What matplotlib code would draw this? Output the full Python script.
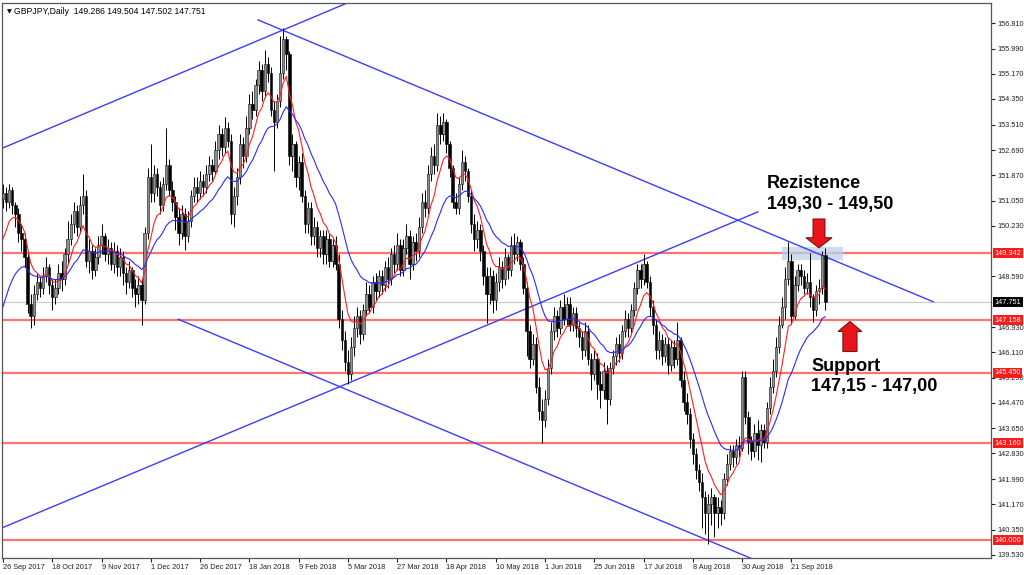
import numpy as np
import matplotlib
matplotlib.use('Agg')
import matplotlib.pyplot as plt
from matplotlib.patches import Polygon, Rectangle
from matplotlib.transforms import blended_transform_factory

plt.rcParams['font.family'] = ['Liberation Sans', 'DejaVu Sans']

# daily closes (bar 0 = 26 Sep 2017)
closes = [
    151.3, 151.0, 151.4, 150.9, 150.6, 150.0, 149.8, 149.2, 147.7, 147.3,
    148.0, 148.4, 148.2, 148.6, 148.9, 148.3, 147.9, 148.2, 148.7, 148.5,
    149.3, 149.8, 150.3, 150.7, 150.2, 150.9, 151.2, 149.1, 149.4, 148.8,
    149.2, 149.6, 149.9, 149.3, 149.5, 149.0, 149.4, 148.9, 149.2, 148.7,
    148.4, 148.8, 148.2, 148.0, 148.3, 147.8, 150.0, 151.8, 151.3, 151.9,
    151.5, 150.9, 151.6, 152.2, 151.4, 151.0, 150.5, 150.0, 150.6, 149.9,
    150.4, 151.2, 151.5, 151.3, 151.7, 151.5, 151.9, 152.2, 152.0, 152.7,
    153.2, 152.8, 153.4, 153.0, 150.6, 151.2, 151.8, 152.9, 152.5, 153.4,
    154.2, 154.0, 154.8, 155.3, 154.6, 155.5, 155.2, 154.0, 153.6, 154.3,
    155.2, 156.3, 155.8, 152.5, 152.9, 151.8, 152.3, 151.2, 150.3, 150.8,
    149.9, 150.2, 149.5, 149.9, 149.3, 149.8, 149.1, 149.6, 149.0, 147.2,
    146.5, 145.8, 145.4, 146.3, 146.9, 147.3, 146.7, 147.5, 148.0, 147.6,
    148.4, 148.1, 148.6, 148.3, 148.9, 148.5, 149.3, 149.0, 149.6, 148.8,
    149.5, 149.9, 149.0, 149.7, 149.4, 150.2, 151.0, 150.8, 151.9, 152.5,
    152.2, 153.5, 153.2, 153.6, 152.9, 152.1, 151.0, 150.8, 151.6, 152.3,
    152.0, 151.2, 150.3, 149.8, 150.1, 149.4, 148.6, 148.0, 148.6, 147.8,
    148.4, 148.9, 148.5, 149.2, 148.8, 149.6, 149.3, 149.7, 149.0, 148.2,
    146.8, 145.9, 146.4, 145.0, 144.2, 143.9, 144.6, 145.6, 146.8, 147.3,
    146.9, 147.6, 147.2, 147.7, 147.0, 147.4, 146.9, 146.6, 146.2, 146.8,
    145.9, 145.4, 145.9, 145.1, 144.9, 145.5, 144.6, 145.6, 146.0, 146.4,
    146.1, 146.8, 147.2, 146.9, 147.5, 148.2, 148.8, 148.5, 149.0, 148.4,
    147.6, 147.0, 146.2, 146.5, 146.0, 146.4, 145.7, 146.3, 145.9, 146.5,
    145.2, 144.5, 144.1, 143.3, 142.8, 142.3, 141.9, 141.4, 140.9, 141.2,
    141.4, 140.9, 141.1, 140.9, 142.0, 142.5, 142.9, 142.7, 143.1, 143.0,
    145.3, 144.0, 143.2, 142.9, 143.5, 143.1, 143.6, 143.2, 144.3, 145.0,
    145.5, 146.3, 147.0, 147.6, 148.5, 149.1, 147.3, 148.3, 148.8, 148.6,
    148.2, 148.4, 147.9, 147.5, 148.1, 148.2, 149.286, 147.751,
]
highs = [
    151.6, 151.5, 151.6, 151.5, 151.0, 150.8, 150.3, 150.0, 149.4, 148.0,
    148.3, 148.7, 148.6, 148.9, 149.2, 149.0, 148.5, 148.5, 149.0, 149.1,
    149.5, 150.4, 150.6, 151.0, 150.9, 151.2, 151.9, 151.4, 149.8, 149.6,
    149.5, 149.9, 150.3, 150.0, 149.8, 149.7, 149.7, 149.6, 149.5, 149.4,
    148.9, 149.1, 148.9, 148.5, 148.6, 148.5, 150.2, 152.1, 152.9, 152.2,
    152.1, 151.7, 151.8, 153.4, 152.4, 151.7, 151.2, 150.8, 150.9, 150.8,
    150.7, 151.4, 151.8, 151.8, 152.0, 151.9, 152.2, 152.5, 152.4, 153.0,
    153.5, 153.4, 153.75, 153.6, 153.2, 151.5, 152.1, 153.2, 153.1, 153.8,
    154.5, 154.6, 155.0, 155.6, 155.5, 155.94, 155.7, 155.4, 154.3, 154.5,
    156.4, 156.66, 156.4, 155.9, 153.2, 153.0, 152.5, 152.6, 151.4, 151.0,
    151.0, 150.5, 150.4, 150.1, 150.1, 150.1, 150.0, 149.8, 149.9, 149.3,
    147.5, 146.8, 146.2, 146.6, 147.3, 147.6, 147.5, 147.7, 148.4, 148.3,
    148.6, 148.7, 148.8, 148.8, 149.1, 149.2, 149.5, 149.6, 150.0, 149.8,
    149.8, 150.3, 150.1, 149.9, 150.0, 150.5, 151.3, 151.4, 152.2, 152.8,
    152.9, 153.9, 153.8, 153.9, 153.7, 153.0, 152.2, 151.3, 151.8, 152.7,
    152.5, 152.1, 151.4, 150.6, 150.4, 150.3, 149.6, 148.9, 148.9, 148.8,
    148.7, 149.2, 149.1, 149.5, 149.3, 149.9, 150.0, 149.9, 149.8, 149.2,
    148.4, 147.0, 146.7, 146.6, 145.3, 144.6, 144.9, 145.9, 147.1, 147.6,
    147.5, 147.8, 148.0, 147.9, 147.9, 147.6, 147.6, 147.1, 146.8, 147.1,
    147.0, 146.1, 146.2, 146.1, 145.5, 145.8, 145.7, 145.8, 146.2, 146.6,
    146.7, 147.0, 147.5, 147.4, 147.7, 148.4, 149.0, 149.0, 149.3, 149.1,
    148.6, 147.8, 147.2, 146.8, 146.7, 146.6, 146.6, 146.5, 146.5, 147.1,
    146.6, 145.5, 144.8, 144.3, 143.5, 143.0, 142.5, 142.2, 141.6, 141.5,
    141.7, 141.5, 141.4, 141.3, 142.2, 142.8, 143.1, 143.1, 143.3, 143.4,
    145.5, 145.5, 144.2, 143.4, 143.8, 143.9, 143.8, 143.8, 144.5, 145.3,
    145.9, 146.6, 147.3, 147.9, 148.9, 149.7, 149.3, 148.6, 149.0, 149.0,
    148.8, 148.7, 149.33, 148.0, 148.3, 148.5, 149.4, 149.504,
]
lows = [
    150.8, 150.7, 150.8, 150.6, 150.2, 149.7, 149.4, 148.9, 147.4, 146.9,
    147.0, 147.8, 147.9, 148.0, 148.4, 148.0, 147.5, 147.7, 148.0, 148.1,
    148.3, 149.0, 149.6, 150.0, 149.9, 150.0, 150.6, 148.9, 148.7, 148.5,
    148.6, 149.0, 149.3, 149.1, 149.0, 148.8, 148.7, 148.6, 148.6, 148.3,
    148.0, 148.2, 147.9, 147.6, 147.7, 147.0, 147.7, 149.8, 151.0, 151.0,
    151.2, 150.6, 150.7, 151.4, 151.2, 150.7, 150.1, 149.6, 149.8, 149.45,
    149.7, 150.2, 151.0, 151.0, 151.1, 151.2, 151.3, 151.7, 151.7, 151.9,
    152.4, 152.5, 152.6, 152.8, 150.3, 150.2, 150.9, 151.6, 152.1, 152.3,
    153.2, 153.7, 153.8, 154.5, 154.3, 154.4, 154.9, 153.8, 152.0, 153.4,
    154.1, 155.0, 155.3, 152.2, 152.0, 151.5, 151.4, 151.0, 150.0, 150.0,
    149.6, 149.6, 149.2, 149.2, 149.0, 149.0, 148.9, 148.9, 148.8, 146.9,
    146.2, 145.5, 145.07, 145.2, 146.0, 146.6, 146.4, 146.5, 147.3, 147.4,
    147.4, 147.8, 147.9, 148.0, 148.1, 148.2, 148.3, 148.7, 148.8, 148.6,
    148.6, 149.3, 148.5, 148.8, 149.1, 149.2, 150.0, 150.5, 150.6, 151.7,
    151.9, 152.0, 152.9, 153.0, 152.6, 151.8, 150.8, 150.6, 150.6, 151.4,
    151.7, 151.0, 150.0, 149.4, 149.5, 149.1, 148.3, 147.07, 147.7, 147.4,
    147.5, 148.1, 148.2, 148.3, 148.5, 148.6, 149.0, 149.1, 148.8, 148.0,
    146.0, 145.6, 145.7, 144.8, 143.9, 143.17, 143.7, 144.4, 145.4, 146.5,
    146.6, 146.7, 147.0, 147.0, 146.8, 146.8, 146.6, 146.3, 145.9, 146.0,
    145.7, 144.9, 145.2, 144.6, 144.3, 144.6, 143.8, 144.4, 145.4, 145.7,
    145.8, 145.9, 146.6, 146.6, 146.7, 147.3, 148.0, 148.2, 148.3, 148.2,
    147.3, 146.7, 145.9, 145.9, 145.7, 145.8, 145.4, 145.5, 145.6, 145.7,
    145.0, 144.2, 143.8, 143.0, 142.5, 142.0, 141.6, 140.4, 140.2, 139.87,
    140.5, 140.1, 140.4, 140.5, 140.7, 141.8, 142.3, 142.4, 142.5, 142.7,
    142.9, 143.8, 142.8, 142.6, 142.7, 142.6, 142.55, 143.0, 143.0, 144.1,
    144.8, 145.3, 146.1, 146.9, 147.2, 148.3, 147.05, 147.2, 148.1, 148.3,
    148.0, 148.0, 147.6, 147.1, 147.3, 147.7, 148.0, 147.502,
]
first_open = 151.1

# moving averages: periods and their values at the first visible bar
fast_period, fast_seed = 8, 149.8
slow_period, slow_seed = 21, 147.6

levels = [149.342, 147.158, 145.450, 143.160, 140.000]
last_price = 147.751
price_ticks = [156.81, 155.99, 155.17, 154.35, 153.51, 152.69, 151.87, 151.05,
               150.23, 148.59, 146.93, 146.11, 145.29, 144.47, 143.65, 142.83,
               141.99, 141.17, 140.35, 139.53]
date_labels = ['26 Sep 2017', '18 Oct 2017', '9 Nov 2017', '1 Dec 2017',
               '26 Dec 2017', '18 Jan 2018', '9 Feb 2018', '5 Mar 2018',
               '27 Mar 2018', '18 Apr 2018', '10 May 2018', '1 Jun 2018',
               '25 Jun 2018', '17 Jul 2018', '8 Aug 2018', '30 Aug 2018',
               '21 Sep 2018']
date_step = 16

# trend lines as (bar, price) end points
trend_lines = [
    ((0.0, 152.76), (112.0, 157.48)),
    ((82.8, 156.92), (302.0, 147.76)),
    ((-0.3, 140.41), (245.1, 150.68)),
    ((56.9, 147.19), (243.6, 139.39)),
]
zone_bars = (252.9, 272.7)
zone_prices = (149.11, 149.55)


def ema(values, period, seed):
    a = 2.0 / (period + 1)
    out = [seed]
    for v in values[1:]:
        out.append(out[-1] + a * (v - out[-1]))
    return np.array(out)


c = np.array(closes)
o = np.array([first_open] + closes[:-1])
idx = np.arange(len(c))

W, H = 1024, 575
fig = plt.figure(figsize=(W / 100, H / 100), dpi=100)
ax = fig.add_axes([2 / W, 17 / H, 989 / W, 555 / H])
ax.set_xlim(-0.32, 320.8)
ax.set_ylim(139.43, 157.47)

# support / resistance levels and bid line
for lv in levels:
    ax.axhline(lv, color='#ff5a5a', lw=1.6, alpha=0.85, zorder=1)
ax.axhline(last_price, color='#c8c8c8', lw=0.8, zorder=1)

ax.add_patch(Rectangle((zone_bars[0], zone_prices[0]), zone_bars[1] - zone_bars[0],
                       zone_prices[1] - zone_prices[0], fc='#b9d3ec', ec='none',
                       alpha=0.75, zorder=1.5))

for (x0, y0), (x1, y1) in trend_lines:
    ax.plot([x0, x1], [y0, y1], color='#3c3cff', lw=1.0, zorder=2)

# candles
bull = c >= o
ax.vlines(idx, lows, highs, color='black', lw=0.7, zorder=3)
ax.bar(idx[bull], (c - o)[bull], bottom=o[bull], width=0.8, color='#909090',
       edgecolor='#111111', lw=0.4, zorder=4)
ax.bar(idx[~bull], (c - o)[~bull], bottom=o[~bull], width=0.8, color='black',
       edgecolor='black', lw=0.4, zorder=4)

ax.plot(idx, ema(closes, fast_period, fast_seed), color='#ff2020', lw=0.8, zorder=5)
ax.plot(idx, ema(closes, slow_period, slow_seed), color='#2a2aff', lw=0.8, zorder=5)

# arrows
down = [(263.0, 150.45), (266.9, 150.45), (266.9, 149.84), (269.2, 149.84),
        (264.95, 149.51), (260.7, 149.84), (263.0, 149.84)]
up = [(272.7, 146.14), (277.3, 146.14), (277.3, 146.79), (278.9, 146.79),
      (275.0, 147.12), (271.1, 146.79), (272.7, 146.79)]
for pts in (down, up):
    ax.add_patch(Polygon(pts, closed=True, fc='#e8141b', ec='#6a1010', lw=0.7, zorder=6))

# axes styling
for s in ax.spines.values():
    s.set_color('#555555')
    s.set_linewidth(0.9)
ax.yaxis.tick_right()
ax.set_yticks(price_ticks)
ax.set_yticklabels([f'{p:.3f}' for p in price_ticks])
ax.tick_params(axis='y', labelsize=5.3, length=3, pad=1.5, colors='#222222')
xt = [i * date_step for i in range(len(date_labels))]
ax.set_xticks(xt)
ax.set_xticklabels(date_labels, ha='left')
ax.tick_params(axis='x', labelsize=5.3, length=3, pad=1.5, colors='#222222')

tr = blended_transform_factory(ax.transAxes, ax.transData)
for lv in levels:
    ax.text(1.0035, lv, f'{lv:.3f}', transform=tr, ha='left', va='center', fontsize=5.3,
            color='white', bbox=dict(boxstyle='square,pad=0.2', fc='#ff1a1a', ec='none'),
            zorder=10, clip_on=False)
ax.text(1.0035, last_price, f'{last_price:.3f}', transform=tr, ha='left', va='center',
        fontsize=5.3, color='white',
        bbox=dict(boxstyle='square,pad=0.2', fc='black', ec='none'), zorder=10, clip_on=False)

ax.text(0.005, 0.985, '\u25BC', transform=ax.transAxes, fontsize=4.5, va='center',
        family=['DejaVu Sans'])
ax.text(0.012, 0.985, 'GBPJPY,Daily  149.286 149.504 147.502 147.751',
        transform=ax.transAxes, fontsize=6.2, va='center')


def ftext(x, y, s):
    fig.text(x / W, 1 - y / H, s, fontsize=13, fontweight='bold', va='baseline')


ftext(767, 188, 'Rezistence')
ftext(767, 209, '149,30 - 149,50')
ftext(811, 371, 'Support')
ftext(811, 391, '147,15 - 147,00')

fig.savefig('out.png', dpi=100)
